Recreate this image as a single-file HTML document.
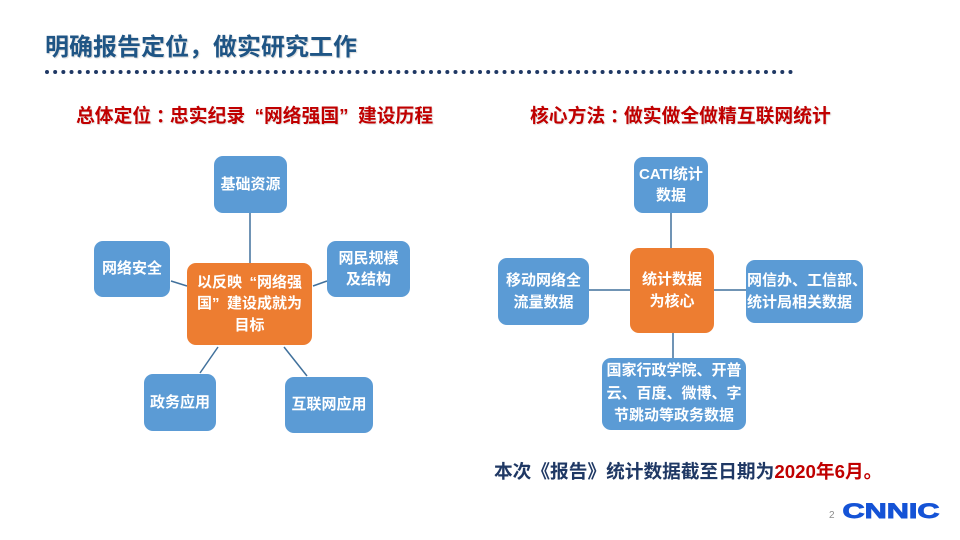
<!DOCTYPE html>
<html>
<head>
<meta charset="utf-8">
<style>
  html,body{margin:0;padding:0;}
  body{width:960px;height:540px;position:relative;background:#fff;overflow:hidden;
    font-family:"Liberation Sans","Noto Sans CJK SC",sans-serif;}
  .abs{position:absolute;}
  .title{left:45px;top:34px;font-size:24px;font-weight:bold;color:#1f5585;white-space:nowrap;line-height:28px;
    text-shadow:1px 1px 1px rgba(0,0,0,0.15);}
  .sub{font-weight:bold;color:#c00000;white-space:nowrap;line-height:22px;display:flex;
    text-shadow:1px 1px 1px rgba(0,0,0,0.12);}
  .sub span{display:block;text-align:center;overflow:visible;width:18.8px;}
  .sub span.col{font-family:"Noto Sans CJK TC","Noto Sans CJK SC",sans-serif;}
  .sub span.ql{text-align:right;font-family:"Liberation Sans",sans-serif;}
  .sub span.qr{text-align:left;font-family:"Liberation Sans",sans-serif;}
  .fw{display:inline-block;width:1em;}
  .fw.ql{text-align:right;font-family:"Liberation Sans",sans-serif;}
  .fw.qr{text-align:left;font-family:"Liberation Sans",sans-serif;}
  .box{position:absolute;display:flex;align-items:center;justify-content:center;text-align:center;
    color:#fff;font-weight:bold;font-size:15px;line-height:21.5px;border-radius:9px;box-sizing:border-box;white-space:nowrap;}
  .b{background:#5b9bd5;}
  .o{background:#ed7d31;}
  .note{left:494px;top:460px;font-size:18.7px;font-weight:bold;color:#1f3864;white-space:nowrap;line-height:24px;}
  .note span{color:#c00000;}
</style>
</head>
<body>
<svg class="abs" style="left:0;top:0" width="960" height="540">
  <g fill="#1f3864" id="dots"></g>
  <g stroke="#41719c" stroke-width="1.5">
    <line x1="250" y1="213" x2="250" y2="263"/>
    <line x1="171" y1="281" x2="187" y2="286"/>
    <line x1="313" y1="286" x2="327" y2="281"/>
    <line x1="218" y1="347" x2="200" y2="373"/>
    <line x1="284" y1="347" x2="307" y2="376"/>
    <line x1="671" y1="213" x2="671" y2="248"/>
    <line x1="589" y1="290" x2="630" y2="290"/>
    <line x1="714" y1="290" x2="746" y2="290"/>
    <line x1="673" y1="333" x2="673" y2="358"/>
  </g>
  <text x="829" y="518" font-size="10" fill="#8c8c8c" font-family="Liberation Sans, sans-serif">2</text>
  <text x="842.5" y="518" font-size="21" font-weight="bold" fill="#1553d6" stroke="#1553d6" stroke-width="0.9" textLength="97" lengthAdjust="spacingAndGlyphs" font-family="Liberation Sans, sans-serif">CNNIC</text>
</svg>

<div class="abs title">明确报告定位，做实研究工作</div>

<div class="abs sub" style="left:76px;top:105px;font-size:18.8px;"><span>总</span><span>体</span><span>定</span><span>位</span><span class="col">：</span><span>忠</span><span>实</span><span>纪</span><span>录</span><span class="ql">“</span><span>网</span><span>络</span><span>强</span><span>国</span><span class="qr">”</span><span>建</span><span>设</span><span>历</span><span>程</span></div>
<div class="abs sub" style="left:530px;top:105px;font-size:18.8px;"><span>核</span><span>心</span><span>方</span><span>法</span><span class="col">：</span><span>做</span><span>实</span><span>做</span><span>全</span><span>做</span><span>精</span><span>互</span><span>联</span><span>网</span><span>统</span><span>计</span></div>

<!-- left diagram -->
<div class="box b" style="left:214px;top:156px;width:73px;height:57px;">基础资源</div>
<div class="box b" style="left:94px;top:241px;width:76px;height:56px;">网络安全</div>
<div class="box b" style="left:327px;top:241px;width:83px;height:56px;">网民规模<br>及结构</div>
<div class="box o" style="left:187px;top:263px;width:125px;height:82px;"><div>以反映<span class="fw ql">“</span>网络强<br>国<span class="fw qr">”</span>建设成就为<br>目标</div></div>
<div class="box b" style="left:144px;top:374px;width:72px;height:57px;">政务应用</div>
<div class="box b" style="left:285px;top:377px;width:88px;height:56px;">互联网应用</div>

<!-- right diagram -->
<div class="box b" style="left:634px;top:157px;width:74px;height:56px;">CATI统计<br>数据</div>
<div class="box o" style="left:630px;top:248px;width:84px;height:85px;">统计数据<br>为核心</div>
<div class="box b" style="left:498px;top:258px;width:91px;height:67px;">移动网络全<br>流量数据</div>
<div class="box b" style="left:746px;top:260px;width:117px;height:63px;line-height:22px;justify-content:flex-start;text-align:left;padding-left:1px;overflow:hidden;">网信办、工信部、<br>统计局相关数据</div>
<div class="box b" style="left:602px;top:358px;width:144px;height:72px;line-height:22.5px;">国家行政学院、开普<br>云、百度、微博、字<br>节跳动等政务数据</div>

<div class="abs note">本次《报告》统计数据截至日期为<span>2020年6月。</span></div>

<script>
  var g=document.getElementById('dots');var s='';
  for(var i=0;i<92;i++){var x=47+i*8.17;s+='<circle cx="'+x.toFixed(2)+'" cy="72" r="2"/>';}
  g.innerHTML=s;
</script>
</body>
</html>
